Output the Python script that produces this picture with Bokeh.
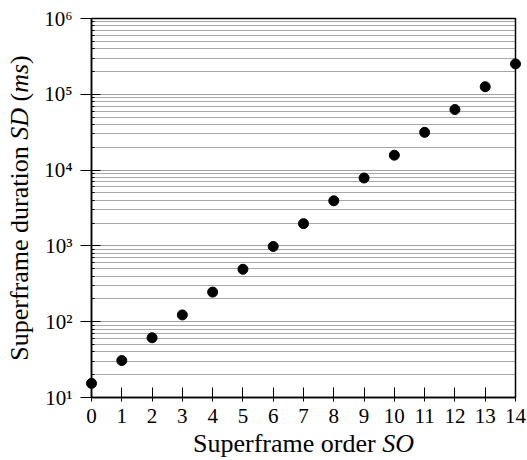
import math
from bokeh.plotting import figure
from bokeh.models import Range1d, FixedTicker, CustomJSTickFormatter, Label
from bokeh.embed import file_html
from bokeh.resources import INLINE

# ---- data ----
superframe_order = list(range(15))
superframe_duration_ms = [15.36, 30.72, 61.44, 122.88, 245.76, 491.52, 983.04,
                          1966.08, 3932.16, 7864.32, 15728.64, 31457.28,
                          62914.56, 125829.12, 251658.24]
x_ticks = list(range(15))
y_major_ticks = [1e1, 1e2, 1e3, 1e4, 1e5, 1e6]
y_minor_ticks = [m * d for d in [1e1, 1e2, 1e3, 1e4, 1e5] for m in range(2, 10)]

# label pieces: (text, style, tight); a space is put between consecutive pieces
# unless the piece is marked as tight
x_label_parts = [("Superframe order", "normal", False), ("SO", "italic", False)]
y_label_parts = [("Superframe duration", "normal", False), ("SD", "italic", False),
                 ("(", "normal", False), ("ms", "italic", True), (")", "normal", True)]

# ---- layout (the frame covers the whole canvas; axes are placed inside) ----
FONT = "Liberation Serif"
CW, CH = 527, 460            # canvas size
AX_L, AX_R = 91, 515         # canvas px of x=0 and x=14
AX_T, AX_B = 18, 397         # canvas px of y=1e6 and y=10

x0, x1 = min(x_ticks), max(x_ticks)
ux = (AX_R - AX_L) / (x1 - x0)
ly0, ly1 = math.log10(y_major_ticks[0]), math.log10(y_major_ticks[-1])
uy = (AX_B - AX_T) / (ly1 - ly0)

x_range = Range1d(x0 - AX_L / ux, x1 + (CW - AX_R) / ux)
y_range = Range1d(10 ** (ly0 - (CH - AX_B) / uy), 10 ** (ly1 + AX_T / uy))

p = figure(frame_width=CW, frame_height=CH, y_axis_type="log",
           x_range=x_range, y_range=y_range,
           min_border=0, min_border_left=0, min_border_right=0,
           min_border_top=0, min_border_bottom=0,
           output_backend="svg", toolbar_location=None)
p.outline_line_color = None
p.background_fill_color = "white"
p.border_fill_color = "white"

# grid
p.xgrid.visible = False
p.ygrid.ticker = FixedTicker(ticks=y_major_ticks, minor_ticks=y_minor_ticks)
p.ygrid.grid_line_color = "#a0a0a0"
p.ygrid.grid_line_width = 1
p.ygrid.minor_grid_line_color = "#a8a8a8"
p.ygrid.minor_grid_line_width = 1
p.ygrid.cross_bounds = (x0, x1)

# frame box (0..14 x 10..1e6)
p.quad(left=[x0], right=[x1], bottom=[y_major_ticks[0]], top=[y_major_ticks[-1]],
       fill_color=None, line_color="black", line_width=1.5)

# x axis
xa = p.xaxis[0]
xa.fixed_location = y_major_ticks[0]
xa.ticker = FixedTicker(ticks=x_ticks)
xa.bounds = (x0, x1)
xa.axis_line_color = "black"
xa.axis_line_width = 1.5
xa.major_tick_in = 10
xa.major_tick_out = 4
xa.major_tick_line_color = "black"
xa.major_tick_line_width = 1
xa.minor_tick_line_color = None
xa.major_label_text_font = FONT
xa.major_label_text_font_size = "21px"
xa.major_label_text_color = "black"
xa.major_label_standoff = 7

# y axis
ya = p.yaxis[0]
ya.fixed_location = x0
ya.ticker = FixedTicker(ticks=y_major_ticks, minor_ticks=y_minor_ticks)
ya.bounds = (y_major_ticks[0], y_major_ticks[-1])
ya.axis_line_color = "black"
ya.axis_line_width = 1.5
ya.major_tick_in = 9
ya.major_tick_out = 11
ya.major_tick_line_color = "black"
ya.major_tick_line_width = 1
ya.minor_tick_in = 3
ya.minor_tick_out = 0
ya.minor_tick_line_color = "black"
ya.major_label_text_font = FONT
ya.major_label_text_font_size = "21px"
ya.major_label_text_color = "black"
ya.major_label_standoff = 8
ya.formatter = CustomJSTickFormatter(code="""
const sup = {"0":"\u2070","1":"\u00b9","2":"\u00b2","3":"\u00b3","4":"\u2074",
             "5":"\u2075","6":"\u2076","7":"\u2077","8":"\u2078","9":"\u2079","-":"\u207b"};
const e = Math.round(Math.log10(tick));
return "10" + String(e).split("").map(c => sup[c]).join("");
""")

# points
p.scatter(superframe_order, superframe_duration_ms, size=10, color="black")

# ---- axis labels (mixed upright / italic) ----
W_N = {"S": 556, "u": 500, "p": 500, "e": 444, "r": 333, "f": 333, "a": 444,
       "m": 778, " ": 250, "o": 500, "d": 500, "t": 278, "i": 278, "n": 500,
       "(": 333, ")": 333}
W_I = {"S": 500, "O": 722, "D": 722, "m": 722, "s": 389}
LABEL_SIZE = 26
SPACE = 0.25 * LABEL_SIZE


def tw(s, style):
    tab = W_I if style == "italic" else W_N
    return sum(tab.get(c, 500) for c in s) / 1000.0 * LABEL_SIZE


def layout_parts(parts):
    pos, cur = [], 0.0
    for i, (s, st, tight) in enumerate(parts):
        if i > 0 and not tight:
            cur += SPACE
        pos.append(cur)
        cur += tw(s, st)
    return pos, cur


# x label, centred under the x axis (screen units: from frame left / bottom)
pos, tot = layout_parts(x_label_parts)
start = (AX_L + AX_R) / 2 - tot / 2
for (s, st, _), off in zip(x_label_parts, pos):
    p.add_layout(Label(x=start + off, y=CH - 443, x_units="screen", y_units="screen",
                       text=s, text_font=FONT, text_font_style=st,
                       text_font_size=f"{LABEL_SIZE}px", text_color="black",
                       text_align="left", text_baseline="middle"))

# y label, rotated, centred along the y axis
pos, tot = layout_parts(y_label_parts)
start = CH - (AX_T + AX_B) / 2 - tot / 2
for (s, st, _), off in zip(y_label_parts, pos):
    p.add_layout(Label(x=19, y=start + off, x_units="screen", y_units="screen",
                       angle=math.pi / 2,
                       text=s, text_font=FONT, text_font_style=st,
                       text_font_size=f"{LABEL_SIZE}px", text_color="black",
                       text_align="left", text_baseline="middle"))

open("out.html", "w").write(file_html(p, INLINE))
